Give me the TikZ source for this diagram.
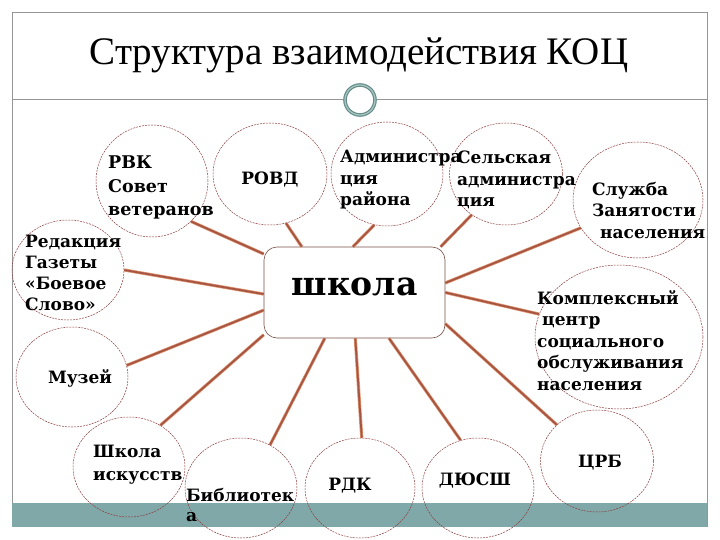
\documentclass[tikz,border=0pt]{standalone}
\usepackage{fontspec}
\setmainfont{Liberation Serif}
\newfontfamily\lblfont{DejaVu Serif}
\usetikzlibrary{shapes.geometric}
\definecolor{bandc}{RGB}{128,168,168}
\definecolor{framec}{RGB}{150,150,150}
\definecolor{ringc}{RGB}{100,140,136}
\definecolor{ringlight}{RGB}{170,200,196}
\definecolor{orgc}{RGB}{140,60,60}
\definecolor{linkout}{RGB}{225,150,115}
\definecolor{linkin}{RGB}{165,85,65}
\definecolor{boxc}{RGB}{120,80,70}

\begin{document}
\begin{tikzpicture}[x=1pt, y=-1pt,
    org/.style={draw=orgc, line width=0.5pt, dash pattern=on 2pt off 1pt, ellipse, inner sep=0pt},
    lbl/.style={anchor=north west, inner sep=0pt, align=left, font=\lblfont\bfseries\fontsize{17}{21.5}\selectfont},
    link/.style={draw=linkout, line width=3.2pt, postaction={draw=linkin, line width=1.8pt}}]
  \useasboundingbox (0,0) rectangle (720,540);

  % frame, band and title
  \fill[bandc] (12,503) rectangle (707,527);
  \draw[framec, line width=1pt] (12,503) -- (12,13) -- (707,13) -- (707,527);
  \draw[framec, line width=1pt] (12,100) -- (707,100);
  \node[circle, draw=ringc, line width=1.2pt, double=ringlight, double distance=1.2pt,
        fill=white, minimum size=30pt, inner sep=0pt] (ring) at (360,100) {};
  \node[anchor=base, font=\fontsize{39}{44}\selectfont] (title) at (359,65) {Структура взаимодействия КОЦ};

  % centre
  \node[draw=boxc, line width=0.6pt, rounded corners=13pt, fill=white, inner sep=0pt,
        minimum width=181pt, minimum height=91pt, text height=17pt, text depth=12pt,
        font=\lblfont\bfseries\fontsize{33}{36}\selectfont] (school) at (354.5,292.5) {школа};

  % partners
  \node[org, minimum width=112pt, minimum height=112pt] (rvk) at (152,181) {};
  \node[org, minimum width=114pt, minimum height=102pt] (rovd) at (270,174) {};
  \node[org, minimum width=112pt, minimum height=104pt] (adm) at (387,174) {};
  \node[org, minimum width=113pt, minimum height=102pt] (sel) at (506,174) {};
  \node[org, minimum width=130pt, minimum height=116pt] (sluzhba) at (638,200) {};
  \node[org, minimum width=168pt, minimum height=144pt] (kcson) at (619,337) {};
  \node[org, minimum width=113pt, minimum height=102pt] (crb) at (597,461) {};
  \node[org, minimum width=112pt, minimum height=100pt] (dyussh) at (478,488) {};
  \node[org, minimum width=110pt, minimum height=100pt] (rdk) at (360,488) {};
  \node[org, minimum width=112pt, minimum height=100pt] (bibl) at (241,488) {};
  \node[org, minimum width=112pt, minimum height=100pt] (shi) at (129,467) {};
  \node[org, minimum width=112pt, minimum height=100pt] (muzey) at (72,377) {};
  \node[org, minimum width=112pt, minimum height=100pt] (red) at (68,270) {};

  \node[lbl, font=\lblfont\bfseries\fontsize{17.5}{23.5}\selectfont] (rvktxt) at (108,156) {РВК\\Совет\\ветеранов};
  \node[lbl, anchor=base] (rovdtxt) at (270,185) {РОВД};
  \node[lbl] (admtxt) at (340,150) {Администра\\ция\\района};
  \node[lbl] (seltxt) at (457,151) {Сельская\\администра\\ция};
  \node[lbl] (sluzhbatxt) at (592,182) {Служба\\Занятости\\\hspace{8pt}населения};
  \node[lbl] (kcsontxt) at (537,290) {Комплексный\\\hspace{5pt}центр\\социального\\обслуживания\\населения};
  \node[lbl, anchor=base] (crbtxt) at (600,467) {ЦРБ};
  \node[lbl, anchor=base] (dyusshtxt) at (475,485) {ДЮСШ};
  \node[lbl, anchor=base] (rdktxt) at (350,490) {РДК};
  \node[lbl, font=\lblfont\bfseries\fontsize{17}{20}\selectfont] (bibltxt) at (186,488) {Библиотек\\а};
  \node[lbl, font=\lblfont\bfseries\fontsize{17}{23}\selectfont] (shitxt) at (93,445) {Школа\\искусств};
  \node[lbl, anchor=base] (muzeytxt) at (80,383) {Музей};
  \node[lbl, font=\lblfont\bfseries\fontsize{17}{21}\selectfont] (redtxt) at (25,235) {Редакция\\Газеты\\«Боевое\\Слово»};

  % links
  \draw[link] (rvk.-46) -- (school.157);
  \draw[link] (rovd.-72) -- (school.139);
  \draw[link] (adm.256) -- (school.92);
  \draw[link] (sel.230) -- (school.28);
  \draw[link] (sluzhba.206) -- (school.6);
  \draw[link] (kcson.164) -- (school.0);
  \draw[link] (crb.138) -- (school.341);
  \draw[link] (dyussh.110) -- (school.307);
  \draw[link] (rdk.88) -- (school.271);
  \draw[link] (bibl.56) -- (school.237);
  \draw[link] (shi.53) -- (school.205);
  \draw[link] (muzey.12) -- (school.191);
  \draw[link] (red.0) -- (school.181);
\end{tikzpicture}
\end{document}
